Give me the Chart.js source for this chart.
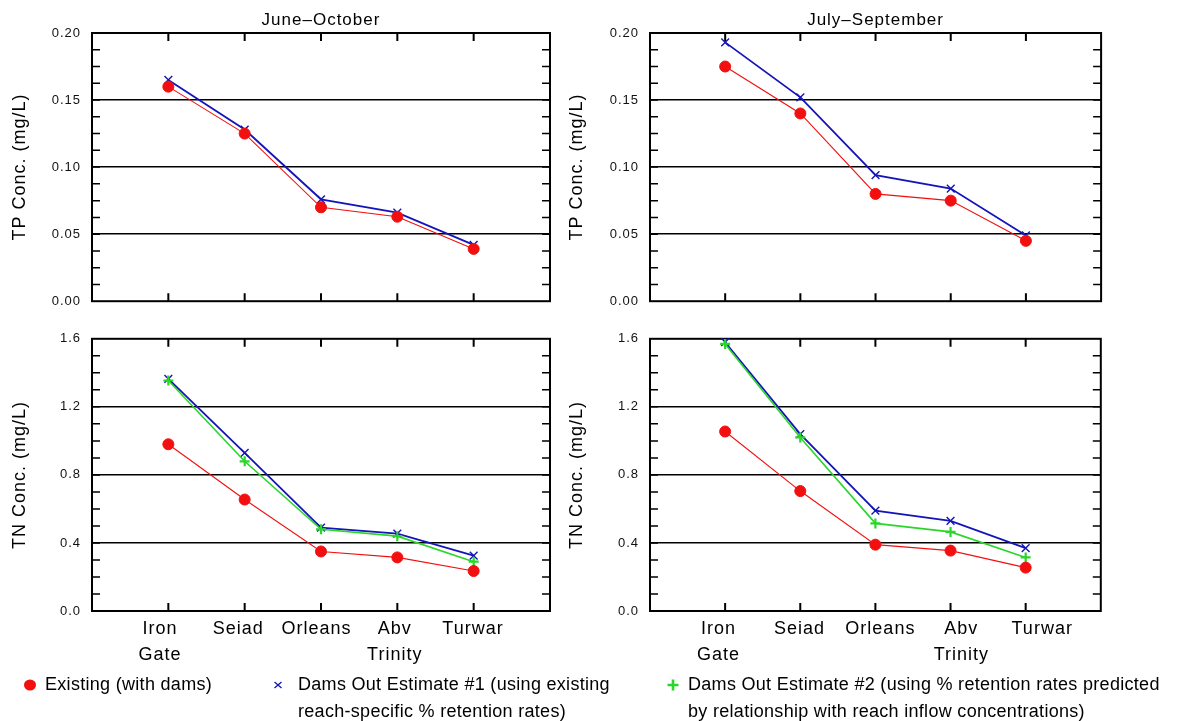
<!DOCTYPE html>
<html>
<head>
<meta charset="utf-8">
<script src="https://cdn.jsdelivr.net/npm/chart.js@4.4.1/dist/chart.umd.min.js"></script>
<style>
body { margin: 0; background: #fff; }
#wrap { position: relative; width: 1196px; height: 721px; overflow: hidden; background: #fff; font-family: "Liberation Sans", Arial, sans-serif; }
canvas { position: absolute; }
.leg { position: absolute; font-size: 18px; line-height: 27px; letter-spacing: 0.3px; color: #000; white-space: nowrap; }
.sym { position: absolute; }
</style>
</head>
<body>
<div id="wrap">
  <canvas id="tpJO" width="560" height="320" style="left:0;top:0"></canvas>
  <canvas id="tpJS" width="548" height="320" style="left:560px;top:0"></canvas>
  <canvas id="tnJO" width="560" height="360" style="left:0;top:320px"></canvas>
  <canvas id="tnJS" width="548" height="360" style="left:560px;top:320px"></canvas>
</div>
<script>
const categories = ['Iron Gate', 'Seiad', 'Orleans', 'Abv Trinity', 'Turwar'];
const periods = ['June\u2013October', 'July\u2013September'];

const tpTickLabels = ['0.00', '0.05', '0.10', '0.15', '0.20'];
const tnTickLabels = ['0.0', '0.4', '0.8', '1.2', '1.6'];

// TP (mg/L)
const tpJunOctExisting = [0.160, 0.125, 0.070, 0.063, 0.039];
const tpJunOctEst1 = [0.165, 0.128, 0.076, 0.066, 0.042];
const tpJulSepExisting = [0.175, 0.140, 0.080, 0.075, 0.045];
const tpJulSepEst1 = [0.193, 0.152, 0.094, 0.084, 0.049];

// TN (mg/L)
const tnJunOctExisting = [0.98, 0.655, 0.35, 0.315, 0.235];
const tnJunOctEst1 = [1.365, 0.93, 0.49, 0.455, 0.325];
const tnJunOctEst2 = [1.355, 0.88, 0.48, 0.44, 0.29];
const tnJulSepExisting = [1.055, 0.705, 0.39, 0.355, 0.255];
const tnJulSepEst1 = [1.58, 1.04, 0.59, 0.53, 0.37];
const tnJulSepEst2 = [1.57, 1.02, 0.515, 0.465, 0.315];

const seriesLabels = [
    ['Existing (with dams)'],
    ['Dams Out Estimate #1 (using existing', 'reach-specific % retention rates)'],
    ['Dams Out Estimate #2 (using % retention rates predicted', 'by relationship with reach inflow concentrations)']
];

const RED = '#f20f0f';
const BLUE = '#1414b8';
const GREEN = '#2ad62a';

Chart.defaults.font.family = '"Liberation Sans", Arial, sans-serif';
Chart.defaults.color = '#000';

const spacingPlugin = {
    id: 'spacing',
    beforeLayout(chart) { chart.ctx.letterSpacing = '1px'; },
    beforeDraw(chart) { chart.ctx.letterSpacing = '1px'; }
};

// frame, inward tick marks and panel title
const framePlugin = {
    id: 'frame',
    beforeDatasetsDraw(chart, args, opts) {
        const { ctx, chartArea: a, scales: { x, y } } = chart;
        ctx.save();
        ctx.strokeStyle = '#000';
        ctx.lineWidth = 1.5;
        ctx.beginPath();
        y.ticks.forEach(t => {
            if (t.value <= y.min + 1e-9 || t.value >= y.max - 1e-9) return;
            const py = y.getPixelForValue(t.value);
            ctx.moveTo(a.left, py); ctx.lineTo(a.left + 8, py);
            ctx.moveTo(a.right - 8, py); ctx.lineTo(a.right, py);
        });
        ctx.stroke();
        ctx.lineWidth = 2;
        ctx.beginPath();
        x.ticks.forEach(t => {
            if (t.value <= x.min || t.value >= x.max) return;
            const px = x.getPixelForValue(t.value);
            ctx.moveTo(px, a.top); ctx.lineTo(px, a.top + 8);
            ctx.moveTo(px, a.bottom); ctx.lineTo(px, a.bottom - 8);
        });
        ctx.stroke();
        ctx.strokeRect(a.left, a.top, a.right - a.left, a.bottom - a.top);
        if (opts.text) {
            ctx.font = '17px "Liberation Sans", Arial, sans-serif';
            ctx.fillStyle = '#000';
            ctx.textAlign = 'center';
            ctx.textBaseline = 'middle';
            ctx.fillText(opts.text, (a.left + a.right) / 2, a.top - 13);
        }
        ctx.restore();
    }
};

Chart.register(spacingPlugin, framePlugin);

const points = vals => vals.map((v, i) => ({ x: i + 1, y: v }));

const existingSet = vals => ({
    data: points(vals), borderColor: RED, backgroundColor: RED, borderWidth: 1.1,
    pointStyle: 'circle', pointRadius: 5.5, pointBorderWidth: 1, order: 0
});
const est1Set = vals => ({
    data: points(vals), borderColor: BLUE, backgroundColor: BLUE, borderWidth: 1.8,
    pointStyle: 'crossRot', pointRadius: 5.5, pointBorderWidth: 1.4, order: 2
});
const est2Set = vals => ({
    data: points(vals), borderColor: GREEN, backgroundColor: GREEN, borderWidth: 1.6,
    pointStyle: 'cross', pointRadius: 5, pointBorderWidth: 2.2, order: 1
});

function makeChart(id, o) {
    const isMajor = v => Math.abs(v / o.major - Math.round(v / o.major)) < 1e-6;
    const scales = {
        x: {
            type: 'linear', min: 0, max: 6,
            ticks: { display: false, stepSize: 1 },
            grid: { display: false, drawTicks: false },
            border: { display: false },
            afterFit: s => { s.height = 0; }
        },
        y: {
            type: 'linear', min: 0, max: o.max,
            ticks: {
                stepSize: o.minor, maxTicksLimit: 100, autoSkip: false, padding: 11,
                color: '#111', font: { size: 13 },
                callback: v => isMajor(v) ? o.tickLabels[Math.round(v / o.major)] : ''
            },
            grid: {
                drawTicks: false, lineWidth: 1.5,
                color: c => (c.tick && isMajor(c.tick.value) && c.tick.value > 1e-9 && c.tick.value < o.max - 1e-9) ? '#000' : 'rgba(0,0,0,0)'
            },
            border: { display: false },
            title: { display: true, text: o.yTitle, color: '#000', font: { size: 18 }, padding: { top: o.titlePad, bottom: 0 } },
            afterFit: s => { s.width = o.yWidth; }
        }
    };
    if (o.labels) {
        scales.xl = {
            type: 'linear', position: 'bottom', min: o.xlMin, max: o.xlMax,
            afterBuildTicks: s => { s.ticks = categories.map((c, i) => ({ value: i + 1 })); },
            ticks: {
                autoSkip: false, maxRotation: 0, padding: 5, color: '#000',
                font: { size: 18, lineHeight: '26px' },
                callback: v => categories[v - 1].split(' ')
            },
            grid: { display: false, drawTicks: false },
            border: { display: false },
            afterFit: s => { s.height = 60; }
        };
    }
    const datasets = o.sets.map(d => Object.assign(d, { xAxisID: 'x', yAxisID: 'y', tension: 0, clip: false }));
    return new Chart(document.getElementById(id), {
        type: 'line',
        data: { datasets },
        options: {
            responsive: false,
            animation: false,
            events: [],
            layout: { padding: o.pad },
            scales,
            plugins: {
                legend: { display: false },
                tooltip: { enabled: false },
                frame: { text: o.title || '' }
            }
        }
    });
}

const tpAxis = { max: 0.2, minor: 0.0125, major: 0.05, tickLabels: tpTickLabels, yTitle: 'TP Conc. (mg/L)' };
const tnAxis = { max: 1.6, minor: 0.1, major: 0.4, tickLabels: tnTickLabels, yTitle: 'TN Conc. (mg/L)' };

makeChart('tpJO', Object.assign({}, tpAxis, {
    title: periods[0], sets: [existingSet(tpJunOctExisting), est1Set(tpJunOctEst1)],
    pad: { top: 33, left: 0, right: 10, bottom: 8 }, yWidth: 92, titlePad: 9
}));
makeChart('tpJS', Object.assign({}, tpAxis, {
    title: periods[1], sets: [existingSet(tpJulSepExisting), est1Set(tpJulSepEst1)],
    pad: { top: 33, left: 0, right: 4, bottom: 8 }, yWidth: 90, titlePad: 6
}));
makeChart('tnJO', Object.assign({}, tnAxis, {
    sets: [existingSet(tnJunOctExisting), est1Set(tnJunOctEst1), est2Set(tnJunOctEst2)],
    pad: { top: 13, left: 0, right: 10, bottom: 9 }, yWidth: 92, titlePad: 9,
    labels: true, xlMin: 0.131, xlMax: 5.984
}));
makeChart('tnJS', Object.assign({}, tnAxis, {
    sets: [existingSet(tnJulSepExisting), est1Set(tnJulSepEst1), est2Set(tnJulSepEst2)],
    pad: { top: 13, left: 0, right: 4, bottom: 9 }, yWidth: 90, titlePad: 6,
    labels: true, xlMin: 0.153, xlMax: 5.724
}));

// legend
const wrap = document.getElementById('wrap');
const legendPos = [{ sym: 30, text: 45 }, { sym: 278, text: 298 }, { sym: 673, text: 688 }];
const symbols = [
    `<svg width="14" height="14"><ellipse cx="7" cy="7" rx="6" ry="5.5" fill="${RED}"/></svg>`,
    `<svg width="14" height="14"><path d="M3.5 4 L10.5 10 M3.5 10 L10.5 4" stroke="${BLUE}" stroke-width="1.3"/></svg>`,
    `<svg width="14" height="14"><path d="M7 1.5 V12.5 M1.5 7 H12.5" stroke="${GREEN}" stroke-width="2.6"/></svg>`
];
seriesLabels.forEach((lines, i) => {
    const s = document.createElement('div');
    s.className = 'sym';
    s.style.left = (legendPos[i].sym - 7) + 'px';
    s.style.top = (685 - 7) + 'px';
    s.innerHTML = symbols[i];
    wrap.appendChild(s);

    const t = document.createElement('div');
    t.className = 'leg';
    t.style.left = legendPos[i].text + 'px';
    t.style.top = '671px';
    t.innerHTML = lines.join('<br>');
    wrap.appendChild(t);
});
</script>
</body>
</html>
